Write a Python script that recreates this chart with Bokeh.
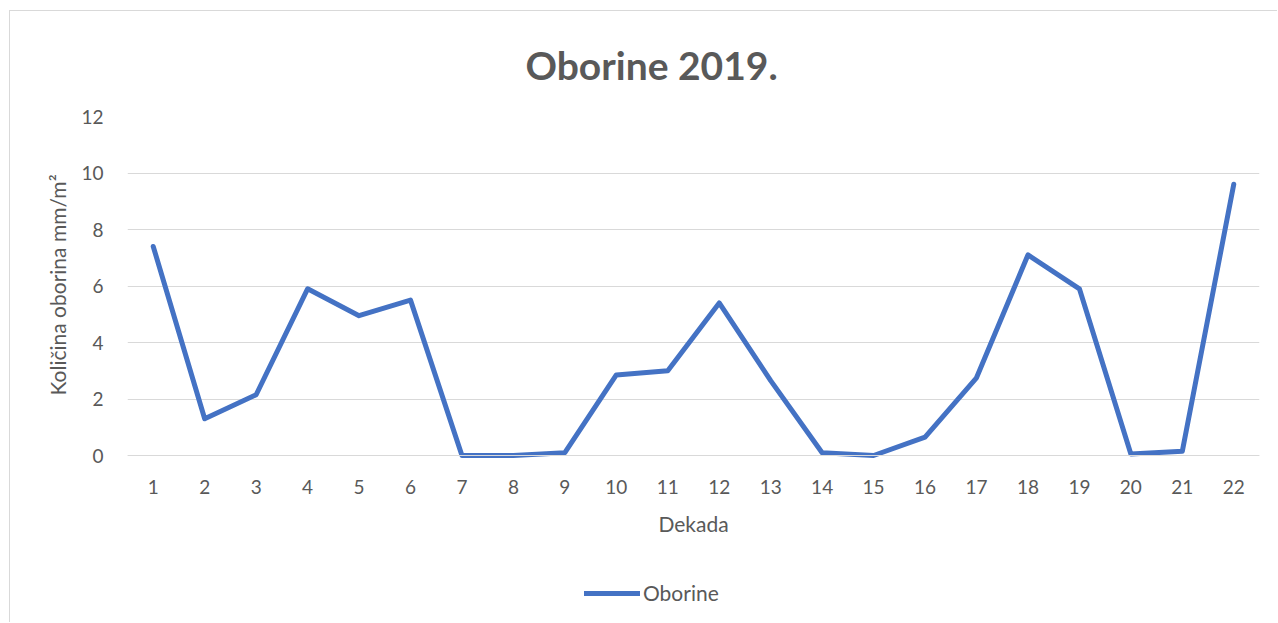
from bokeh.plotting import figure
from bokeh.models import FixedTicker, Range1d, Legend, LegendItem, Title
from bokeh.embed import file_html
from bokeh.resources import INLINE

dekade = list(range(1, 23))
oborine = [7.4, 1.3, 2.15, 5.9, 4.95, 5.5, 0.0, 0.0, 0.1, 2.85, 3.0, 5.4, 2.65, 0.1, 0.0,
           0.65, 2.75, 7.1, 5.9, 0.05, 0.15, 9.6]
y_ticks = [0, 2, 4, 6, 8, 10, 12]

FONT = "Lato"
GRAY = "#595959"

# frame extends below 0 so the x axis (fixed at 0), its label and the legend sit inside it
y_bottom = -12 * 166 / 339

p = figure(width=1268, height=612, output_backend="svg", toolbar_location=None,
           x_range=Range1d(0.5, 22.5), y_range=Range1d(y_bottom, 12),
           min_border_left=117, min_border_right=19, min_border_top=105, min_border_bottom=2)
p.outline_line_color = None
p.styles = {"border-left": "1px solid #d9d9d9", "border-top": "1px solid #d9d9d9",
            "margin-left": "9px", "margin-top": "10px"}

p.title.text = "Oborine 2019."
p.title.align = "left"
p.title.offset = 398
p.title.vertical_align = "middle"
p.title.text_font = FONT
p.title.text_font_size = "39px"
p.title.text_font_style = "bold"
p.title.text_color = GRAY
p.title.standoff = 56

r = p.line(dekade, oborine, line_color="#4472C4", line_width=5, line_join="round", line_cap="round")

p.xaxis.ticker = FixedTicker(ticks=dekade)
p.yaxis.ticker = FixedTicker(ticks=y_ticks)
for ax in (p.xaxis, p.yaxis):
    ax.major_tick_line_color = None
    ax.minor_tick_line_color = None
    ax.major_label_text_font = FONT
    ax.major_label_text_font_size = "19px"
    ax.major_label_text_color = GRAY
    ax.axis_label_text_font = FONT
    ax.axis_label_text_font_size = "21px"
    ax.axis_label_text_font_style = "normal"
    ax.axis_label_text_color = GRAY
p.xaxis.fixed_location = 0
p.xaxis.axis_line_color = "#d9d9d9"
p.yaxis.axis_line_color = None
p.xaxis.axis_label = "Dekada"
p.xaxis.major_label_standoff = 18
p.xaxis.axis_label_standoff = 14
p.yaxis.major_label_standoff = 18

ylab = Title(text="Količina oborina mm/m²", align="left", offset=226, text_font=FONT,
             text_font_size="21px", text_font_style="normal", text_color=GRAY, standoff=17)
p.add_layout(ylab, "left")

p.xgrid.grid_line_color = None
p.ygrid.grid_line_color = "#d9d9d9"
p.ygrid.grid_line_width = 1

legend = Legend(items=[LegendItem(label="Oborine", renderers=[r])], orientation="horizontal",
                location=(457, 16), glyph_width=56, label_text_font=FONT, label_text_font_size="21px",
                label_text_color=GRAY, border_line_color=None, background_fill_alpha=0,
                label_standoff=3, margin=0, padding=0)
p.add_layout(legend, "center")

open("out.html", "w").write(file_html(p, INLINE))
